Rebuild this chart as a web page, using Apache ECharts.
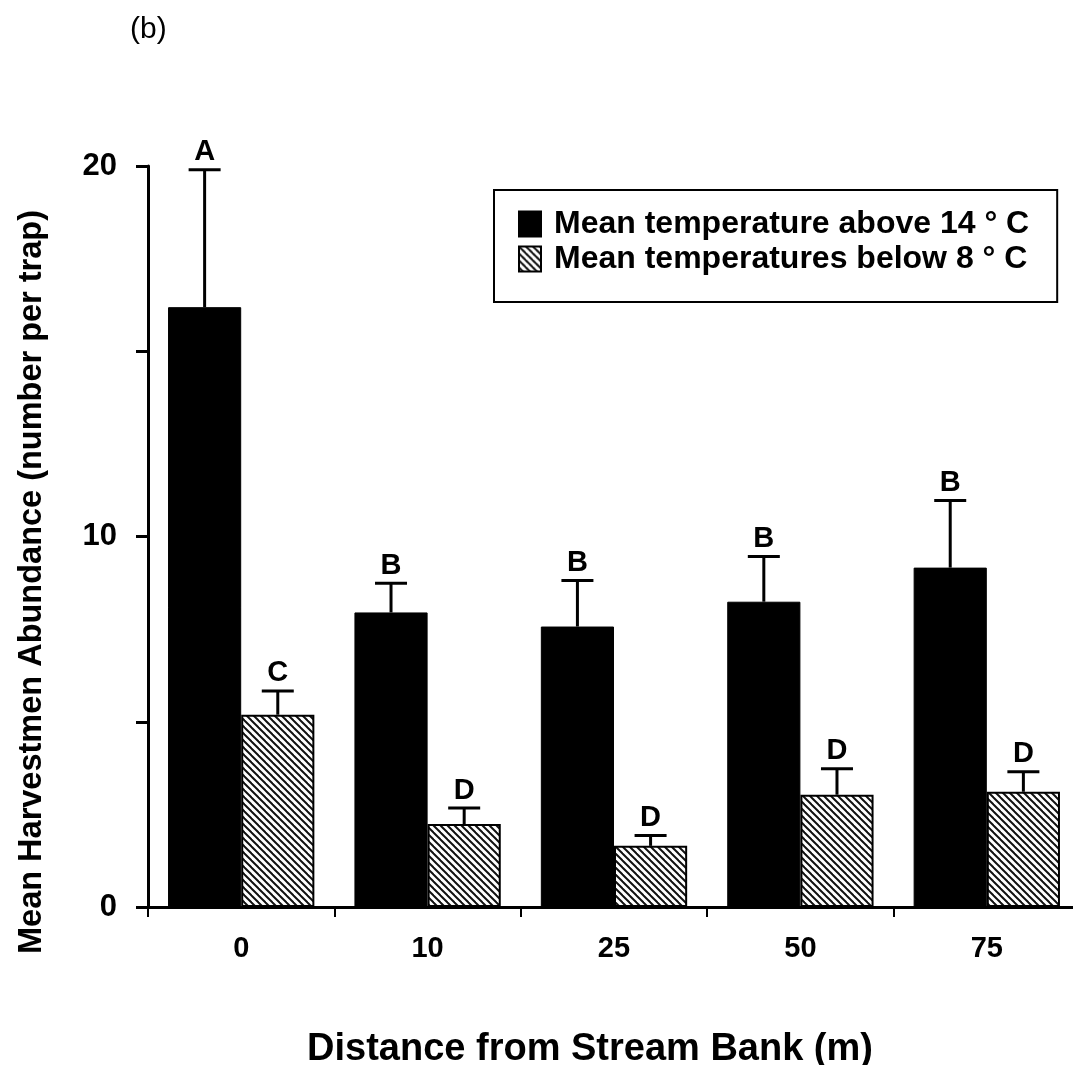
<!DOCTYPE html>
<html>
<head>
<meta charset="utf-8">
<script src="https://cdn.jsdelivr.net/npm/echarts@6/dist/echarts.min.js"></script>
<style>
html,body{margin:0;padding:0;background:#fff;overflow:hidden;}
#chart{width:1080px;height:1065px;}
</style>
</head>
<body>
<div id="chart"></div>
<script>
// ---- data ----
const categories = ['0', '10', '25', '50', '75'];
const warmMean  = [16.19, 7.95, 7.57, 8.24, 9.16];
const warmUpper = [19.90, 8.74, 8.81, 9.46, 10.97];
const coldMean  = [5.19, 2.24, 1.65, 3.03, 3.11];
const coldUpper = [5.83, 2.67, 1.93, 3.73, 3.65];
const warmLetters = ['A', 'B', 'B', 'B', 'B'];
const coldLetters = ['C', 'D', 'D', 'D', 'D'];
const seriesNames = ['Mean temperature above 14 \u00B0 C', 'Mean temperatures below 8 \u00B0 C'];
const yTicks = [0, 10, 20];

// ---- hatch pattern ----
function makeHatch() {
  const s = 7;
  const c = document.createElement('canvas');
  c.width = s; c.height = s;
  const g = c.getContext('2d');
  g.fillStyle = '#fff';
  g.fillRect(0, 0, s, s);
  g.strokeStyle = '#111';
  g.lineWidth = 2;
  for (let k = -1; k <= 1; k++) {
    g.beginPath();
    g.moveTo(-2 + k * s, -2);
    g.lineTo(s + 2 + k * s, s + 2);
    g.stroke();
  }
  return c;
}
const hatch = { image: makeHatch(), repeat: 'repeat' };

const FONT = '"Liberation Sans", Arial, sans-serif';
const GAP = 0.215;                 // barCategoryGap fraction
const OFF = (1 - GAP) / 4;         // offset of each bar centre (fraction of band)

function errRender(upper, mean, letters, side) {
  return function (params, api) {
    const i = params.dataIndex;
    const band = api.size([1, 0])[0];
    const c0 = api.coord([i, mean[i]]);
    const c1 = api.coord([i, upper[i]]);
    const x = c0[0] + side * OFF * band;
    const half = 16;
    return {
      type: 'group',
      children: [
        { type: 'line', shape: { x1: x, y1: c0[1], x2: x, y2: c1[1] }, style: { stroke: '#000', lineWidth: 3 } },
        { type: 'line', shape: { x1: x - half, y1: c1[1], x2: x + half, y2: c1[1] }, style: { stroke: '#000', lineWidth: 3 } },
        { type: 'text', x: x, y: c1[1] - 3, style: { text: letters[i], font: 'bold 29px ' + FONT, fill: '#000', textAlign: 'center', textVerticalAlign: 'bottom' } }
      ]
    };
  };
}

const chart = echarts.init(document.getElementById('chart'), null, { renderer: 'canvas' });
chart.setOption({
  animation: false,
  backgroundColor: '#fff',
  textStyle: { fontFamily: FONT },
  grid: { left: 148, top: 166, right: 0, bottom: 158, containLabel: false },
  legend: {
    data: seriesNames,
    orient: 'vertical',
    left: 494, top: 190,
    icon: 'rect',
    itemWidth: 22, itemHeight: 25, itemGap: 3,
    padding: [18, 28, 27, 24],
    borderColor: '#000', borderWidth: 2, backgroundColor: '#fff',
    textStyle: { fontSize: 32, lineHeight: 25, fontWeight: 'bold', color: '#000', fontFamily: FONT, padding: [0, 0, 0, 8] },
    selectedMode: false
  },
  xAxis: {
    type: 'category',
    data: categories,
    axisLine: { lineStyle: { color: '#000', width: 3 } },
    axisTick: { show: true, length: 10, lineStyle: { color: '#000', width: 2 } },
    axisLabel: { color: '#000', fontSize: 29, fontWeight: 'bold', margin: 27, fontFamily: FONT },
    splitLine: { show: false }
  },
  yAxis: {
    type: 'value',
    min: 0, max: 20, interval: 5,
    axisLine: { show: true, lineStyle: { color: '#000', width: 3 } },
    axisTick: { show: true, length: 12, lineStyle: { color: '#000', width: 3 } },
    axisLabel: {
      color: '#000', fontSize: 31, fontWeight: 'bold', margin: 31, fontFamily: FONT,
      formatter: v => (yTicks.indexOf(v) >= 0 ? String(v) : '')
    },
    splitLine: { show: false }
  },
  graphic: [
    { type: 'text', x: 130, y: 30, style: { text: '(b)', font: '30px ' + FONT, fill: '#000', textVerticalAlign: 'middle' } },
    { type: 'text', x: 32, y: 582, rotation: Math.PI / 2, style: { text: 'Mean Harvestmen Abundance (number per trap)', font: 'bold 32.5px ' + FONT, fill: '#000', textAlign: 'center', textVerticalAlign: 'middle' } },
    { type: 'text', x: 590, y: 1050, style: { text: 'Distance from Stream Bank (m)', font: 'bold 38px ' + FONT, fill: '#000', textAlign: 'center', textVerticalAlign: 'middle' } }
  ],
  series: [
    {
      name: seriesNames[0], type: 'bar', data: warmMean,
      barGap: '0%', barCategoryGap: (GAP * 100) + '%',
      itemStyle: { color: '#000', borderColor: '#000', borderWidth: 1 }
    },
    {
      name: seriesNames[1], type: 'bar', data: coldMean,
      barGap: '0%', barCategoryGap: (GAP * 100) + '%',
      itemStyle: { color: hatch, borderColor: '#000', borderWidth: 2 }
    },
    {
      type: 'custom', z: 5,
      data: categories.map((c, i) => [i, warmUpper[i]]),
      renderItem: errRender(warmUpper, warmMean, warmLetters, -1)
    },
    {
      type: 'custom', z: 5,
      data: categories.map((c, i) => [i, coldUpper[i]]),
      renderItem: errRender(coldUpper, coldMean, coldLetters, 1)
    }
  ]
});
</script>
</body>
</html>
